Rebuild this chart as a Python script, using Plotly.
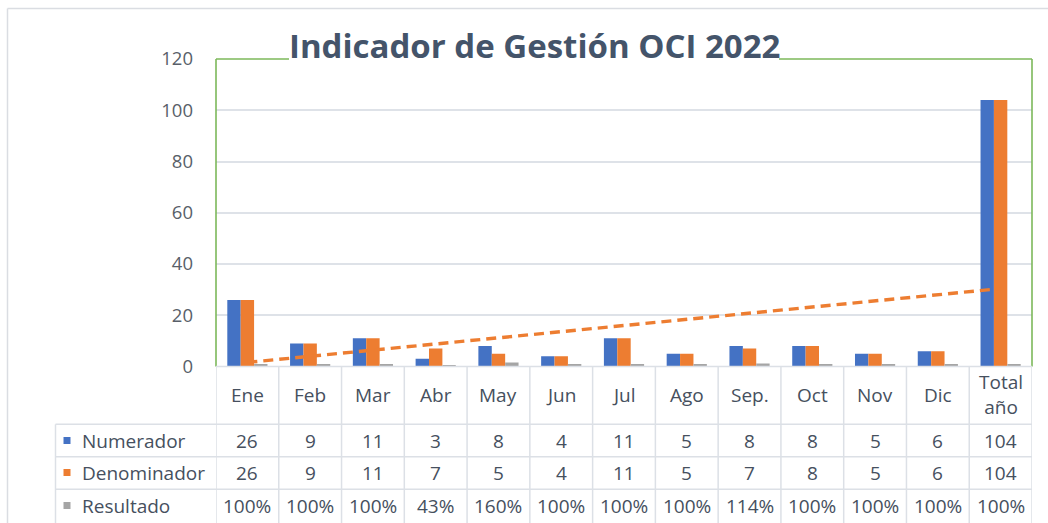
import numpy as np
import plotly.graph_objects as go

# ---- data ----
categories = ["Ene", "Feb", "Mar", "Abr", "May", "Jun", "Jul", "Ago", "Sep.", "Oct", "Nov", "Dic", "Total<br>año"]
numerador = [26, 9, 11, 3, 8, 4, 11, 5, 8, 8, 5, 6, 104]
denominador = [26, 9, 11, 7, 5, 4, 11, 5, 7, 8, 5, 6, 104]
resultado = [1.00, 1.00, 1.00, 0.43, 1.60, 1.00, 1.00, 1.00, 1.14, 1.00, 1.00, 1.00, 1.00]
series_names = ["Numerador", "Denominador", "Resultado"]
series_colors = ["#4472C4", "#ED7D31", "#A5A5A5"]
title_text = "Indicador de Gestión OCI 2022"

W, H = 1048, 523
FONT = "Open Sans"
TXT = "#46505E"
GRID = "#DEE2E8"


def px(x):
    return x / W


def py(y):
    return 1 - y / H


x_idx = list(range(len(categories)))
PL, PR, PT, PB = 216, 1032, 59, 366.5

fig = go.Figure()
for name, vals, col in zip(series_names, [numerador, denominador, resultado], series_colors):
    fig.add_trace(go.Bar(x=x_idx, y=vals, name=name, marker_color=col,
                         marker_line_width=0, showlegend=False))

# linear trendline on Denominador
coef = np.polyfit(np.array(x_idx, dtype=float), np.array(denominador, dtype=float), 1)
tx = np.array([x_idx[0], x_idx[-1]], dtype=float)
fig.add_trace(go.Scatter(x=tx, y=np.polyval(coef, tx), mode="lines",
                         line=dict(color="#ED7D31", width=3.4, dash="10px,6px"),
                         showlegend=False, hoverinfo="skip"))

shapes = []
# outer chart border
shapes.append(dict(type="line", xref="paper", yref="paper", x0=px(7.5), x1=1, y0=py(8.5), y1=py(8.5),
                   line=dict(color="#DADDE2", width=1.5)))
shapes.append(dict(type="line", xref="paper", yref="paper", x0=px(7.5), x1=px(7.5), y0=py(8.5), y1=0,
                   line=dict(color="#DADDE2", width=1.5)))
# green plot border (left, top with gap for title, right)
G = dict(color="#7CB85A", width=1.6)
shapes.append(dict(type="line", xref="paper", yref="paper", x0=px(PL), x1=px(PL), y0=py(PB), y1=py(PT), line=G))
shapes.append(dict(type="line", xref="paper", yref="paper", x0=px(PR), x1=px(PR), y0=py(PB), y1=py(PT), line=G))
shapes.append(dict(type="line", xref="paper", yref="paper", x0=px(PL), x1=px(289), y0=py(PT), y1=py(PT), line=G))
shapes.append(dict(type="line", xref="paper", yref="paper", x0=px(779), x1=px(PR), y0=py(PT), y1=py(PT), line=G))

TL = dict(color="#DCE0E6", width=1.5)
# table horizontal lines
shapes.append(dict(type="line", xref="paper", yref="paper", x0=px(PL), x1=px(PR), y0=py(PB), y1=py(PB), line=TL))
row_lines = [424.3, 456.7, 489.3]
for yy in row_lines:
    shapes.append(dict(type="line", xref="paper", yref="paper", x0=px(55.5), x1=px(PR), y0=py(yy), y1=py(yy), line=TL))
# table vertical lines
shapes.append(dict(type="line", xref="paper", yref="paper", x0=px(55.5), x1=px(55.5), y0=py(424.3), y1=0, line=TL))
for i in range(len(categories) + 1):
    shapes.append(dict(type="line", xref="x", yref="paper", x0=i - 0.5, x1=i - 0.5, y0=py(PB), y1=0, line=TL))
# legend keys
row_centers = [440.5, 472.5, 505.5]
for yc, col in zip(row_centers, series_colors):
    shapes.append(dict(type="rect", xref="paper", yref="paper", x0=px(63.5), x1=px(70.5),
                       y0=py(yc + 3.5), y1=py(yc - 3.5), fillcolor=col, line=dict(width=0)))

annotations = []
annotations.append(dict(text="<b>" + title_text + "</b>", xref="paper", yref="paper", x=px(534), y=py(45.5),
                        xanchor="center", yanchor="middle", showarrow=False,
                        font=dict(family=FONT, size=33, color="#44546A")))
TS = 19
for i, c in enumerate(categories):
    annotations.append(dict(text=c, xref="x", yref="paper", x=i, y=py(394.5), xanchor="center", yanchor="middle",
                            showarrow=False, font=dict(family=FONT, size=TS, color=TXT)))
table_rows = [[str(v) for v in numerador], [str(v) for v in denominador],
              ["{:.0f}%".format(v * 100) for v in resultado]]
for yc, name, row in zip(row_centers, series_names, table_rows):
    annotations.append(dict(text=name, xref="paper", yref="paper", x=px(80), y=py(yc), xanchor="left",
                            yanchor="middle", showarrow=False, font=dict(family=FONT, size=TS, color=TXT)))
    for i, t in enumerate(row):
        annotations.append(dict(text=t, xref="x", yref="paper", x=i, y=py(yc), xanchor="center",
                                yanchor="middle", showarrow=False, font=dict(family=FONT, size=TS, color=TXT)))

fig.update_layout(
    width=W, height=H, margin=dict(l=0, r=0, t=0, b=0, autoexpand=False),
    paper_bgcolor="white", plot_bgcolor="white",
    barmode="group", bargap=0.36, bargroupgap=0,
    xaxis=dict(domain=[px(PL), px(PR)], range=[-0.5, len(categories) - 0.5], showticklabels=False,
               showgrid=False, zeroline=False, showline=False, ticks="", automargin=False),
    yaxis=dict(domain=[py(PB), py(PT)], range=[0, 120], dtick=20, showgrid=True, gridcolor=GRID,
               gridwidth=1.5, zeroline=False, showline=False, ticks="", ticklabelstandoff=22,
               automargin=False, tickfont=dict(family=FONT, size=18.5, color="#595F69")),
    shapes=shapes, annotations=annotations, showlegend=False,
)
fig.write_html("out.html", config={"displayModeBar": False},
               post_script="document.body.style.margin='0';document.body.style.overflow='hidden';")
